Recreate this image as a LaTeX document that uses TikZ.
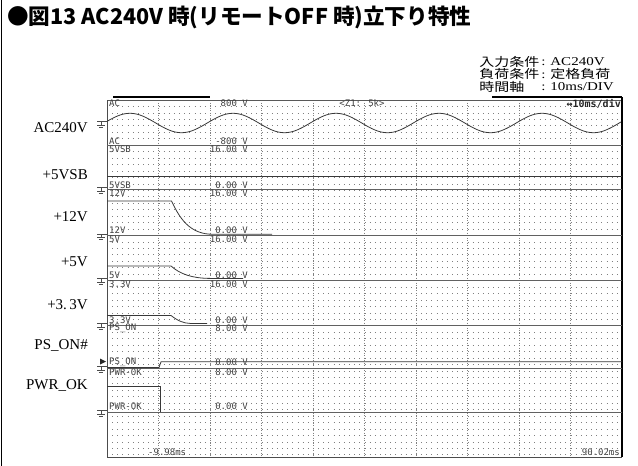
\documentclass[tikz,border=0pt]{standalone}
\usepackage{fontspec}
\setmainfont{Liberation Serif}
\newfontfamily\jpfont{Noto Sans CJK JP}
\newfontfamily\scfont{DejaVu Sans Mono}
\begin{document}
\begin{tikzpicture}[x=1pt,y=-1pt,
  trace/.style={draw=black!78, line width=0.8pt},
  sep/.style={draw=black!62, line width=0.9pt},
  rowdots/.style={draw=black!50, line width=0.7pt, dash pattern=on 0.7pt off 4.45pt},
  coldots/.style={draw=black!50, line width=0.7pt, dash pattern=on 0.7pt off 1.8pt},
  sc/.style={font=\scfont\fontsize{9}{9}\selectfont, text=black!75, inner sep=0pt},
  scr/.style={sc, anchor=east},
  scl/.style={sc, anchor=west},
  lab/.style={font=\fontsize{15}{16}\selectfont, anchor=east, inner sep=0pt},
  cond/.style={font=\fontsize{12}{12}\selectfont, anchor=west, inner sep=0pt, xscale=1.25},
  gnd/.style={draw=black!70, line width=0.6pt}]
\useasboundingbox (0,0) rectangle (638,466);
% outer left border
\draw[black, line width=1pt] (1.5,0) -- (1.5,466);
% title
\node[anchor=west, inner sep=0pt, font=\jpfont\bfseries\fontsize{21.6}{22}\selectfont] (title) at (7,17.5) {●図13 AC240V 時(リモートOFF 時)立下り特性};
% conditions
\node[cond] (c1l) at (479,61.5) {\jpfont 入力条件};
\node[cond] (c1r) at (541,61.5) {: AC240V};
\node[cond] (c2l) at (479,74) {\jpfont 負荷条件};
\node[cond] (c2r) at (541,74) {: {\jpfont 定格負荷}};
\node[cond] (c3l) at (479,86.5) {\jpfont 時間軸};
\node[cond] (c3r) at (541,86.5) {: 10ms/DIV};
% grid rows
\foreach \k in {1,...,55} {
  \draw[rowdots] (107,{100+6.45*\k}) -- (622,{100+6.45*\k});
}
% grid major columns
\foreach \i in {1,...,9} {
  \draw[coldots] ({107+51.5*\i},100) -- ({107+51.5*\i},457);
}
% frame
\draw[draw=black!65, line width=0.9pt] (107,100) -- (622,100);
\draw[draw=black!70, line width=0.9pt] (107,100) -- (107,457) -- (622,457);
\draw[black, line width=2pt] (622,97) -- (622,457);
\draw[black, line width=1.6pt] (113,97) -- (210,97);
\draw[black, line width=1.6pt] (492,97) -- (622,97);
% channel separators
\foreach \yy in {145.5,189,235.7,280,325,368,412} {
  \draw[sep] (107,\yy) -- (622,\yy);
}
% traces
\draw[trace] plot[domain=107:621, samples=240] (\x,{123-9.7*cos(3.4951*(\x-130))});
\draw[trace] (107,176.5) -- (622,176.5);
\draw[trace] (107,201) -- (171.5,201) .. controls (177,212) and (186,233) .. (210,234.2) -- (272,234.2);
\draw[trace] (107,266) -- (171,266) .. controls (180,274) and (192,278.3) .. (210,278.4) -- (243,278.4);
\draw[trace] (107,315.5) -- (171,315.5) .. controls (178,321) and (184,323.3) .. (190,323.4) -- (207,323.4);
\draw[trace] (107,367.6) -- (159,367.6) -- (161,361.8) -- (622,361.8);
\draw[trace] (107,386) -- (160,386) -- (160,412);
% ground marks
\foreach \g in {124,190,236.7,281,326,369,413} {
  \draw[gnd] (97,{\g-2.5}) -- (107,{\g-2.5}) (101,{\g-2.5}) -- (101,{\g+0.8}) (97,{\g+0.8}) -- (105,{\g+0.8}) (98.8,{\g+2.8}) -- (103.2,{\g+2.8});
}
\fill[black!85] (100,358.5) -- (106,361.5) -- (100,364.5) -- cycle;
% scope texts
\node[scl] (t1) at (109,103.5) {AC};
\node[scr] (t2) at (248,103.5) {800 V};
\node[sc] (t3) at (362,103.5) {<Z1: 5k>};
\node[sc, anchor=east, font=\scfont\bfseries\fontsize{10}{10}\selectfont, text=black!85] (t4) at (621,104) {↔10ms/div};
\node[scl] (t5) at (109,141) {AC};
\node[scr] (t6) at (248,141) {-800 V};
\node[scl] (t7) at (109,149.5) {5VSB};
\node[scr] (t8) at (248,149.5) {16.00 V};
\node[scl] (t9) at (109,185) {5VSB};
\node[scr] (t10) at (248,185) {0.00 V};
\node[scl] (t11) at (109,193) {12V};
\node[scr] (t12) at (248,193) {16.00 V};
\node[scl] (t13) at (109,230.5) {12V};
\node[scr] (t14) at (248,230.5) {0.00 V};
\node[scl] (t15) at (109,239) {5V};
\node[scr] (t16) at (248,239) {16.00 V};
\node[scl] (t17) at (109,275.5) {5V};
\node[scr] (t18) at (248,275.5) {0.00 V};
\node[scl] (t19) at (109,284) {3.3V};
\node[scr] (t20) at (248,284) {16.00 V};
\node[scl] (t21) at (109,320) {3.3V};
\node[scr] (t22) at (248,320) {0.00 V};
\node[scl] (t23) at (109,328.5) {PS\_ON};
\node[scr] (t24) at (248,328.5) {8.00 V};
\node[scl] (t25) at (109,362.5) {PS\_ON};
\node[scr] (t26) at (248,362.5) {0.00 V};
\node[scl] (t27) at (109,372) {PWR-OK};
\node[scr] (t28) at (248,372) {8.00 V};
\node[scl] (t29) at (109,406) {PWR-OK};
\node[scr] (t30) at (248,406) {0.00 V};
\node[scl] (t31) at (148,452.5) {-9.98ms};
\node[scr] (t32) at (620,452.5) {90.02ms};
% left labels
\node[lab] (l1) at (88,128) {AC240V};
\node[lab] (l2) at (88,175) {+5VSB};
\node[lab] (l3) at (88,217) {+12V};
\node[lab] (l4) at (88,262) {+5V};
\node[lab] (l5) at (88,305) {+3.\,3V};
\node[lab] (l6) at (88,345) {PS\_ON\#};
\node[lab] (l7) at (88,385) {PWR\_OK};
\end{tikzpicture}
\end{document}
